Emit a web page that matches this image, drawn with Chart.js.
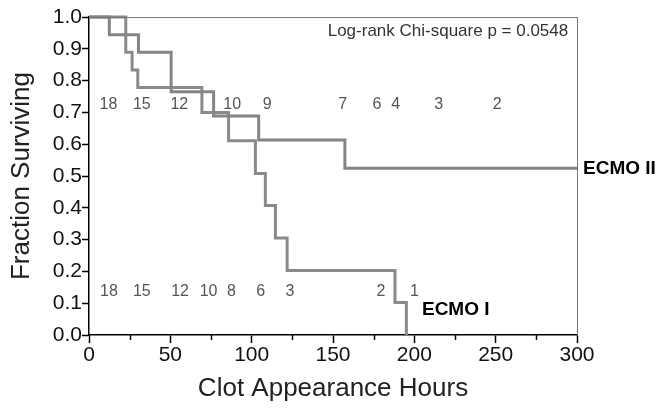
<!DOCTYPE html>
<html><head><meta charset="utf-8">
<script src="https://cdn.jsdelivr.net/npm/chart.js@4.4.1/dist/chart.umd.min.js"></script>
<style>html,body{margin:0;padding:0;background:#fff;overflow:hidden;}</style>
</head><body>
<canvas id="c" width="668" height="408" style="width:668px;height:408px;display:block"></canvas>
<script>
// ---- data ----
const ecmo2Times = [0, 12.5, 30.4, 50.5, 76.6, 104.3, 157.3, 300];
const ecmo2Surv  = [1.0, 0.944, 0.889, 0.765, 0.689, 0.613, 0.524, 0.524];
const ecmo1Times = [0, 22.6, 26.5, 30.0, 69.4, 85.8, 102.3, 108.4, 114.6, 121.8, 188.1, 195.1];
const ecmo1Surv  = [1.0, 0.889, 0.833, 0.778, 0.700, 0.611, 0.508, 0.407, 0.305, 0.203, 0.102, 0.0];
const atRiskII      = ['18','15','12','10','9','7','6','4','3','2'];
const atRiskIITimes = [12, 32.5, 55.5, 88, 109.5, 156, 177, 188.5, 215, 251];
const atRiskI       = ['18','15','12','10','8','6','3','2','1'];
const atRiskITimes  = [12.3, 32.5, 56, 73.5, 87.5, 105.5, 123.5, 179.5, 200];
const seriesNames = ['ECMO II', 'ECMO I'];
const pText = 'Log-rank Chi-square p = 0.0548';
const xTitle = 'Clot Appearance Hours';
const yTitle = 'Fraction Surviving';

const FONT = "'Liberation Sans', Arial, sans-serif";
const toPts = (t, s) => t.map((x, i) => ({x: x, y: s[i]}));

const annot = {
  id: 'annot',
  afterDraw(chart) {
    const {ctx, chartArea: a, scales: {x, y}} = chart;
    ctx.save();
    // top & right frame
    ctx.strokeStyle = '#777'; ctx.lineWidth = 1;
    ctx.beginPath();
    ctx.moveTo(a.left, a.top + 0.5); ctx.lineTo(a.right + 0.5, a.top + 0.5); ctx.lineTo(a.right + 0.5, a.bottom);
    ctx.stroke();
    // minor x ticks
    ctx.strokeStyle = '#000'; ctx.lineWidth = 1.5;
    for (let v = 25; v < 300; v += 50) {
      const px = Math.round(x.getPixelForValue(v)) + 0.5;
      ctx.beginPath(); ctx.moveTo(px, a.bottom); ctx.lineTo(px, a.bottom + 5); ctx.stroke();
    }
    // at-risk numbers
    ctx.fillStyle = '#555'; ctx.font = '16px ' + FONT;
    ctx.textAlign = 'center'; ctx.textBaseline = 'middle';
    atRiskII.forEach((t, i) => ctx.fillText(t, x.getPixelForValue(atRiskIITimes[i]), y.getPixelForValue(0.723)));
    atRiskI.forEach((t, i) => ctx.fillText(t, x.getPixelForValue(atRiskITimes[i]), y.getPixelForValue(0.136)));
    // p-value
    ctx.fillStyle = '#333'; ctx.font = '17px ' + FONT; ctx.textAlign = 'right';
    ctx.fillText(pText, x.getPixelForValue(294.6), y.getPixelForValue(0.954));
    // series labels
    ctx.fillStyle = '#000'; ctx.font = 'bold 19px ' + FONT; ctx.textAlign = 'left';
    ctx.fillText(seriesNames[0], x.getPixelForValue(300) + 6, y.getPixelForValue(0.524));
    ctx.fillText(seriesNames[1], x.getPixelForValue(204.7), y.getPixelForValue(0.079));
    ctx.restore();
  }
};

new Chart(document.getElementById('c'), {
  type: 'scatter',
  data: {
    datasets: [
      {label: seriesNames[0], data: toPts(ecmo2Times, ecmo2Surv), showLine: true, stepped: true,
       borderColor: '#858585', borderWidth: 3, pointRadius: 0, clip: false},
      {label: seriesNames[1], data: toPts(ecmo1Times, ecmo1Surv), showLine: true, stepped: true,
       borderColor: '#8a8a8a', borderWidth: 3, pointRadius: 0, clip: false}
    ]
  },
  options: {
    responsive: false, animation: false, devicePixelRatio: 1,
    layout: {padding: {top: 17, right: 91, left: 0, bottom: 0}},
    plugins: {legend: {display: false}, tooltip: {enabled: false}},
    scales: {
      x: {
        type: 'linear', min: 0, max: 300,
        afterFit: s => { s.height = 73; },
        ticks: {stepSize: 25, autoSkip: false, maxRotation: 0, padding: 0,
                color: '#111', font: {family: FONT, size: 21},
                callback: v => (v % 50 === 0 ? String(v) : '')},
        grid: {drawOnChartArea: false, drawTicks: true, tickLength: 8, tickWidth: 1.5,
               tickColor: c => (c.tick && c.tick.value % 50 === 0 ? '#000' : 'rgba(0,0,0,0)')},
        border: {display: true, color: '#000', width: 1.5},
        title: {display: true, text: xTitle, color: '#222', font: {family: FONT, size: 26},
                padding: {top: 0, bottom: 4}}
      },
      y: {
        type: 'linear', min: 0, max: 1,
        afterFit: s => { s.width = 89; },
        ticks: {stepSize: 0.1, autoSkip: false, padding: 0, color: '#111',
                font: {family: FONT, size: 21}, callback: v => v.toFixed(1)},
        grid: {drawOnChartArea: false, drawTicks: true, tickLength: 7, tickWidth: 1.5, tickColor: '#000'},
        border: {display: true, color: '#000', width: 1.5},
        title: {display: true, text: yTitle, color: '#222', font: {family: FONT, size: 26},
                padding: {top: 6, bottom: 0}}
      }
    }
  },
  plugins: [annot]
});
</script>
</body></html>
